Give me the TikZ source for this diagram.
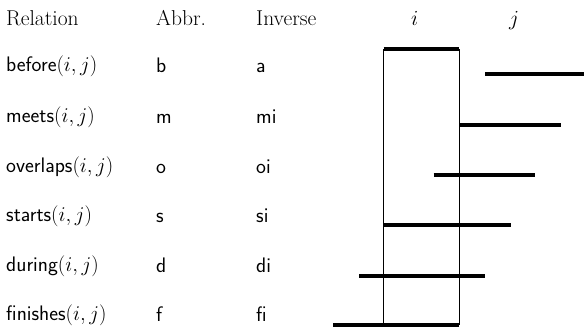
\documentclass[tikz,border=0pt]{standalone}
\usepackage{fix-cm}
\usepackage{fontspec}
\begin{document}
\begin{tikzpicture}[x=1pt,y=-1pt,
  txt/.style={anchor=base west,inner sep=0pt,font=\fontsize{21.5}{25}\selectfont},
  stxt/.style={anchor=base west,inner sep=0pt,font=\fontsize{21}{25}\selectfont\sffamily},
  thin line/.style={line width=0.9pt},
  bar/.style={line width=3.2pt}]
\useasboundingbox (0,0) rectangle (584,327);
% header
\node[txt] (hrel) at (6,25) {Relation};
\node[txt] (habbr) at (156,25) {Abbr.};
\node[txt] (hinv) at (256,25) {Inverse};
\node[txt] (hi) at (411,25) {$i$};
\node[txt] (hj) at (509,25) {$j$};
% rows
\foreach \nm/\ab/\inv/\y [count=\k] in {before/b/a/71, meets/m/mi/122, overlaps/o/oi/172, starts/s/si/221, during/d/di/271, finishes/f/fi/320}{
  \node[stxt] (rel\k) at (6,\y) {\nm$(i,j)$};
  \node[stxt] (abb\k) at (156,\y+1.5) {\ab};
  \node[stxt] (inv\k) at (256,\y+1.5) {\inv};
}
% interval i box
\coordinate (iL) at (383.5,49);
\coordinate (iR) at (459.3,49);
\coordinate (bL) at (383.5,325);
\coordinate (bR) at (459.3,325);
\draw[thin line] (iL) -- (bL);
\draw[thin line] (iR) -- (bR);
\draw[bar] (iL) -- (iR);
% j intervals
\coordinate (b1) at (485,74);   \coordinate (e1) at (584,74);
\coordinate (b2) at (459.3,125); \coordinate (e2) at (560.5,125);
\coordinate (b3) at (433.5,175); \coordinate (e3) at (535.3,175);
\coordinate (b4) at (383.5,225); \coordinate (e4) at (510.7,225);
\coordinate (b5) at (359,276);  \coordinate (e5) at (484.7,276);
\coordinate (b6) at (333.3,325); \coordinate (e6) at (459.3,325);
\foreach \k in {1,...,6}{\draw[bar] (b\k) -- (e\k);}
\end{tikzpicture}
\end{document}
